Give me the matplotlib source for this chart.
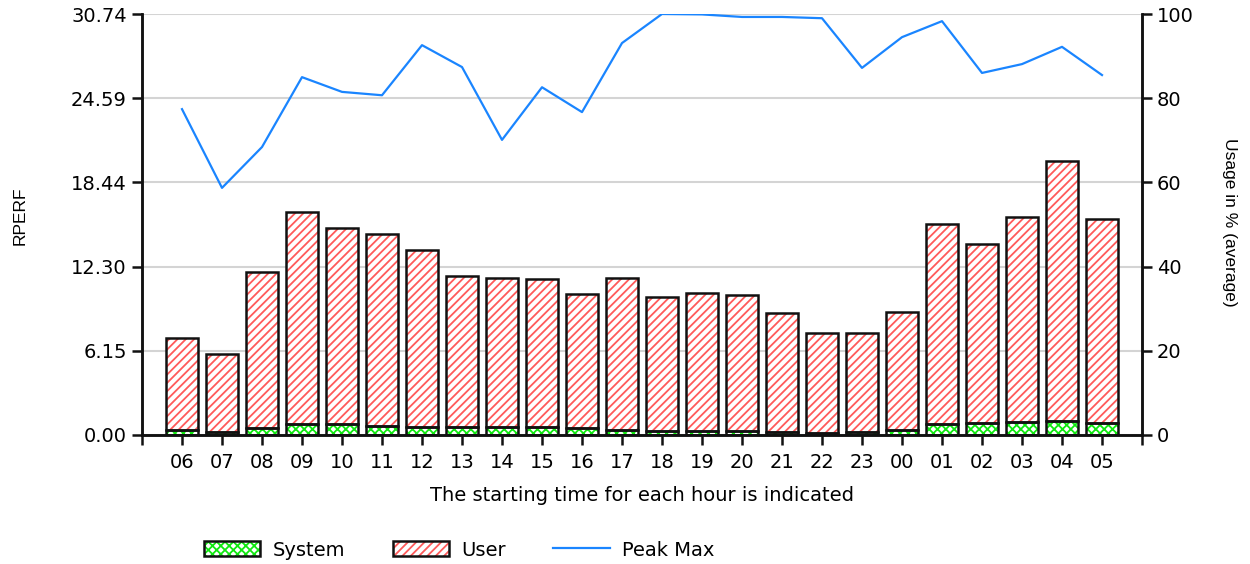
import numpy as np
import matplotlib
matplotlib.use("Agg")
import matplotlib.pyplot as plt
from matplotlib.patches import Patch
from matplotlib.lines import Line2D
from matplotlib.legend_handler import HandlerTuple

plt.rcParams["font.family"] = ["DejaVu Sans"]
plt.rcParams["hatch.linewidth"] = 1.3

hours = ["06", "07", "08", "09", "10", "11", "12", "13", "14", "15", "16", "17",
         "18", "19", "20", "21", "22", "23", "00", "01", "02", "03", "04", "05"]
system = [0.34, 0.24, 0.49, 0.80, 0.78, 0.68, 0.61, 0.58, 0.58, 0.58, 0.51, 0.37,
          0.29, 0.29, 0.29, 0.22, 0.17, 0.20, 0.36, 0.78, 0.90, 0.97, 1.00, 0.90]
total = [7.08, 5.91, 11.90, 16.28, 15.11, 14.68, 13.51, 11.61, 11.46, 11.39, 10.30, 11.46,
         10.08, 10.37, 10.22, 8.91, 7.45, 7.45, 8.98, 15.40, 13.95, 15.91, 20.00, 15.77]
peak_max = [77.4, 58.7, 68.4, 85.0, 81.5, 80.7, 92.6, 87.4, 70.1, 82.6, 76.7, 93.1,
            100.0, 99.9, 99.3, 99.3, 99.0, 87.2, 94.5, 98.3, 86.0, 88.1, 92.2, 85.5]
left_ticks = [0.00, 6.15, 12.30, 18.44, 24.59, 30.74]

GREEN, RED, BLUE, INK = "#10e810", "#ff5a5a", "#1a85ff", "#111111"

system = np.array(system)
user = np.array(total) - system
x = np.arange(len(hours))
w = 0.8

fig = plt.figure(figsize=(12.5, 5.64), dpi=100)
ax = fig.add_axes([142 / 1250, 1 - 435 / 564, 1000 / 1250, 421 / 564])
ax2 = ax.twinx()

# hatched fills, then black outlines on top
ax.bar(x, system, w, color="white", edgecolor=GREEN, hatch="xxxx", lw=0, zorder=2)
ax.bar(x, user, w, bottom=system, color="white", edgecolor=RED, hatch="////", lw=0, zorder=2)
ax.bar(x, system, w, fill=False, edgecolor=INK, lw=1.8, zorder=3)
ax.bar(x, user, w, bottom=system, fill=False, edgecolor=INK, lw=1.8, zorder=3)

ax2.plot(x, peak_max, color=BLUE, lw=1.6)

ax.set_xlim(-1, 24)
ax.set_ylim(0, 30.74)
ax2.set_ylim(0, 100)
ax.set_yticks(left_ticks)
ax.set_yticklabels([f"{v:.2f}" for v in left_ticks])
ax2.set_yticks([0, 20, 40, 60, 80, 100])
ax.set_xticks(list(x) + [-1, 24])
ax.set_xticklabels(hours + ["", ""])
ax.grid(axis="y", color="#d4d4d4", lw=1.5)
ax.set_axisbelow(True)

for a in (ax, ax2):
    a.spines["top"].set_visible(False)
    for s in ("left", "right", "bottom"):
        a.spines[s].set_linewidth(1.8)
        a.spines[s].set_color(INK)
    a.tick_params(width=1.8, length=7, labelsize=14, color=INK)
ax.tick_params(axis="x", pad=6)
ax.tick_params(axis="y", pad=4)

ax.set_xlabel("The starting time for each hour is indicated", fontsize=14, labelpad=10)
ax.set_ylabel("RPERF", fontsize=12.5, family=["Liberation Sans", "DejaVu Sans"])
ax.yaxis.set_label_coords(-0.114, 0.52)
ax2.set_ylabel("Usage in % (average)", fontsize=12.5, rotation=-90, va="center",
               family=["Liberation Sans", "DejaVu Sans"])
ax2.yaxis.set_label_coords(1.087, 0.506)

outline = Patch(facecolor="none", edgecolor=INK, lw=1.8)
handles = [(Patch(facecolor="white", edgecolor=GREEN, hatch="xxxx", lw=0), outline),
           (Patch(facecolor="white", edgecolor=RED, hatch="////", lw=0), outline),
           Line2D([], [], color=BLUE, lw=1.6)]
fig.legend(handles, ["System", "User", "Peak Max"], ncol=3, frameon=False,
           loc="center left", bbox_to_anchor=(204 / 1250, 1 - 550 / 564),
           fontsize=14, handlelength=2.9, handleheight=0.8,
           handletextpad=0.62, columnspacing=2.45, borderpad=0, borderaxespad=0,
           handler_map={tuple: HandlerTuple(ndivide=1, pad=0)})

fig.savefig("out.png", dpi=100)
